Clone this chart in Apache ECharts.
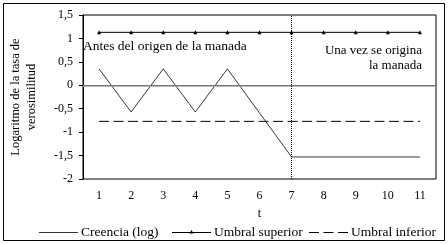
<!DOCTYPE html>
<html><head><meta charset="utf-8">
<script src="https://cdn.jsdelivr.net/npm/echarts@6/dist/echarts.min.js"></script>
<style>html,body{margin:0;padding:0;background:#fff}#c{width:448px;height:244px}</style>
</head><body><div id="c"></div>
<script>
var categories = ['1','2','3','4','5','6','7','8','9','10','11'];
var creencia = [0.35, -0.57, 0.35, -0.57, 0.35, -0.59, -1.53, -1.53, -1.53, -1.53, -1.53];
var umbralSuperior = [1.13, 1.13, 1.13, 1.13, 1.13, 1.13, 1.13, 1.13, 1.13, 1.13, 1.13];
var umbralInferior = [-0.77, -0.77, -0.77, -0.77, -0.77, -0.77, -0.77, -0.77, -0.77, -0.77, -0.77];
var seriesNames = ['Creencia (log)', 'Umbral superior', 'Umbral inferior'];
var yTitle = 'Logaritmo de la tasa de\nverosimilitud';
var xTitle = 't';
var noteBefore = 'Antes del origen de la manada';
var noteAfter1 = 'Una vez se origina';
var noteAfter2 = 'la manada';
var splitIndex = 6;

var FONT = '"Liberation Serif", "Times New Roman", serif';
var DASH = [10, 4.5];

// legend drawn as graphic (icon line + label)
var legendX = [39, 172, 309];
var legendY = 232;
var legendGraphics = [];
seriesNames.forEach(function (name, i) {
  var x0 = legendX[i];
  legendGraphics.push({
    type: 'line', shape: {x1: x0, y1: legendY + 0.5, x2: x0 + 39, y2: legendY + 0.5},
    style: {stroke: '#000', lineWidth: i === 0 ? 0.8 : 1, lineDash: i === 2 ? DASH : null}
  });
  if (i === 1) {
    legendGraphics.push({
      type: 'polygon', shape: {points: [[x0 + 19.5, legendY - 2], [x0 + 17.5, legendY + 1.5], [x0 + 21.5, legendY + 1.5]]},
      style: {fill: '#000'}
    });
  }
  legendGraphics.push({
    type: 'text', x: x0 + 42, y: legendY, style: {text: name, font: '13.5px ' + FONT, fill: '#000', verticalAlign: 'middle'}
  });
});

var chart = echarts.init(document.getElementById('c'), null, {renderer: 'canvas'});
chart.setOption({
  animation: false,
  textStyle: {fontFamily: FONT, color: '#000'},
  grid: {left: 76, top: 15, right: 12, bottom: 65, show: true, borderColor: '#000', borderWidth: 1},
  xAxis: {
    type: 'category', data: categories, boundaryGap: true,
    name: xTitle, nameLocation: 'middle', nameGap: 29,
    nameTextStyle: {fontFamily: FONT, fontSize: 12, color: '#000'},
    axisLine: {lineStyle: {color: '#000', width: 1}},
    axisTick: {show: false},
    axisLabel: {fontFamily: FONT, fontSize: 12, color: '#000', margin: 11}
  },
  yAxis: {
    type: 'value', min: -2, max: 1.5, interval: 0.5,
    name: yTitle, nameLocation: 'middle', nameGap: 43, nameRotate: 90,
    nameTextStyle: {fontFamily: FONT, fontSize: 12.5, color: '#000', lineHeight: 16},
    axisLine: {show: true, lineStyle: {color: '#000', width: 1}},
    axisTick: {show: true, length: 4, lineStyle: {color: '#000'}},
    splitLine: {show: false},
    axisLabel: {fontFamily: FONT, fontSize: 12, color: '#000', margin: 10,
      formatter: function (v) { return String(v).replace('.', ','); }}
  },
  legend: {show: false, data: seriesNames},
  series: [
    {
      name: seriesNames[0], type: 'line', data: creencia, symbol: 'none',
      lineStyle: {color: '#000', width: 0.8}, itemStyle: {color: '#000'},
      markLine: {
        silent: true, symbol: 'none', label: {show: false},
        data: [
          {yAxis: 0, lineStyle: {color: '#a0a0a0', width: 1.5, type: 'solid'}},
          {xAxis: splitIndex, lineStyle: {color: '#000', width: 1, type: [1, 1]}}
        ]
      }
    },
    {
      name: seriesNames[1], type: 'line', data: umbralSuperior, symbol: 'triangle', symbolSize: 4,
      lineStyle: {color: '#000', width: 1}, itemStyle: {color: '#000'}
    },
    {
      name: seriesNames[2], type: 'line', data: umbralInferior, symbol: 'none',
      lineStyle: {color: '#000', width: 1, type: DASH}, itemStyle: {color: '#000'}
    }
  ],
  graphic: [
    {type: 'rect', shape: {x: 3.5, y: 3.5, width: 441, height: 237}, style: {fill: 'none', stroke: '#000', lineWidth: 1}, z: -1},
    {type: 'text', x: 83, y: 39, style: {text: noteBefore, font: '13.5px ' + FONT, fill: '#000'}},
    {type: 'text', x: 422, y: 44, style: {text: noteAfter1, font: '13px ' + FONT, fill: '#000', align: 'right'}},
    {type: 'text', x: 422, y: 59, style: {text: noteAfter2, font: '13px ' + FONT, fill: '#000', align: 'right'}}
  ].concat(legendGraphics)
});
</script></body></html>
